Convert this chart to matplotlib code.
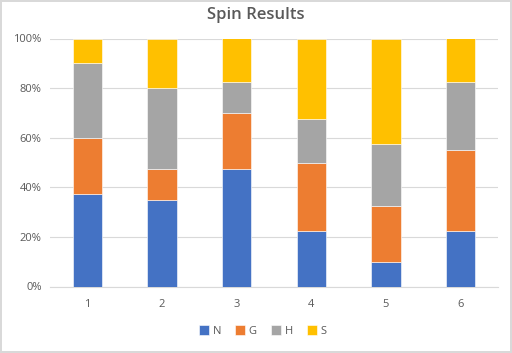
import numpy as np
import matplotlib
matplotlib.use('Agg')
import matplotlib.pyplot as plt
from matplotlib.ticker import PercentFormatter

plt.rcParams['font.family'] = ['Open Sans', 'DejaVu Sans']

# Data (percent of each spin)
spins = ['1', '2', '3', '4', '5', '6']
n_vals = [37.5, 35.0, 47.5, 22.5, 10.0, 22.5]
g_vals = [22.5, 12.5, 22.5, 27.5, 22.5, 32.5]
h_vals = [30.0, 32.5, 12.5, 17.5, 25.0, 27.5]
s_vals = [10.0, 20.0, 17.5, 32.5, 42.5, 17.5]

series = [('N', n_vals, '#4472C4'), ('G', g_vals, '#ED7D31'),
          ('H', h_vals, '#A5A5A5'), ('S', s_vals, '#FFC000')]

fig = plt.figure(figsize=(5.12, 3.53), dpi=100)
fig.patch.set_edgecolor('#D9D9D9')
fig.patch.set_linewidth(1.5)
ax = fig.add_axes([50/512, 66.5/353, 448/512, 248/353])

x = np.arange(len(spins))
bottom = np.zeros(len(spins))
for name, vals, col in series:
    ax.bar(x, vals, width=0.39, bottom=bottom, color=col, label=name,
           edgecolor='white', linewidth=0.4, zorder=3)
    bottom += np.array(vals)

ax.set_xlim(-0.5, 5.5)
ax.set_ylim(0, 100)
ax.set_yticks(range(0, 101, 20))
ax.yaxis.set_major_formatter(PercentFormatter(decimals=0))
ax.set_xticks(x)
ax.set_xticklabels(spins)
ax.grid(axis='y', color='#D9D9D9', linewidth=0.8, zorder=0)
for sp in ['top', 'right', 'left']:
    ax.spines[sp].set_visible(False)
ax.spines['bottom'].set_color('#D9D9D9')
ax.tick_params(length=0, labelsize=8, colors='#595959', pad=9)
ax.tick_params(axis='y', pad=6)

fig.text(0.5, 0.958, 'Spin Results', ha='center', va='center',
         fontsize=12, fontweight='semibold', color='#595959')

ax.legend(loc='center', bbox_to_anchor=(0.475, -0.18), ncol=4, frameon=False,
          fontsize=8, handlelength=0.9, handleheight=0.9, handletextpad=0.3,
          columnspacing=1.3, labelcolor='#595959')

fig.savefig('out.png', dpi=100)
